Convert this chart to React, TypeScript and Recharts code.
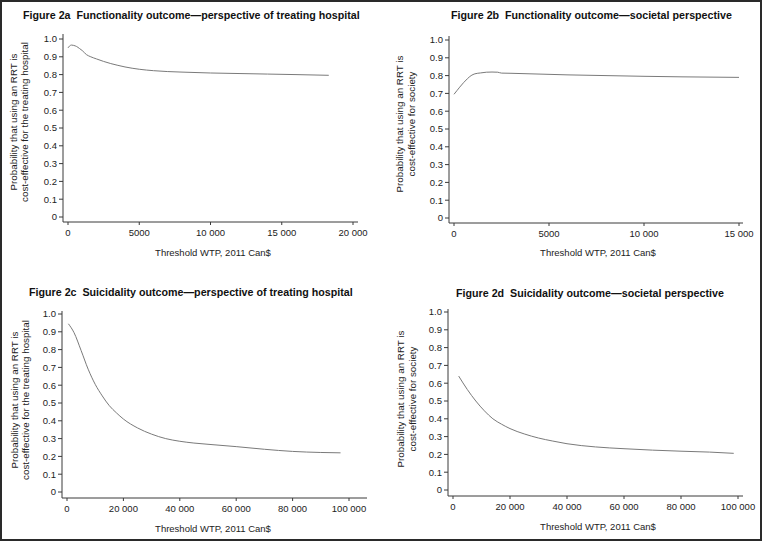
import { LineChart, Line, XAxis, YAxis, Label } from 'recharts'

// Figure 2a: functionality outcome, treating hospital
const wtpA = [0, 100, 250, 400, 600, 800, 1000, 1300, 1600, 2000, 2500, 3000, 3500, 4000, 5000, 6000, 7000, 8000, 10000, 12000, 14000, 16000, 18300]
const probA = [0.95, 0.96, 0.966, 0.964, 0.958, 0.947, 0.935, 0.912, 0.9, 0.888, 0.874, 0.862, 0.852, 0.843, 0.83, 0.822, 0.817, 0.814, 0.809, 0.806, 0.803, 0.8, 0.796]

// Figure 2b: functionality outcome, societal
const wtpB = [0, 150, 300, 500, 700, 900, 1100, 1400, 1700, 2000, 2300, 2500, 3000, 4000, 5000, 6000, 8000, 10000, 12000, 15000]
const probB = [0.695, 0.715, 0.735, 0.76, 0.782, 0.8, 0.81, 0.815, 0.819, 0.82, 0.819, 0.814, 0.813, 0.81, 0.807, 0.804, 0.8, 0.796, 0.793, 0.79]

// Figure 2c: suicidality outcome, treating hospital
const wtpC = [500, 2500, 5000, 7500, 10000, 12500, 15000, 17500, 20000, 25000, 30000, 35000, 40000, 45000, 50000, 60000, 70000, 80000, 90000, 97000]
const probC = [0.945, 0.895, 0.795, 0.69, 0.605, 0.54, 0.485, 0.445, 0.41, 0.36, 0.325, 0.3, 0.285, 0.275, 0.268, 0.255, 0.24, 0.228, 0.222, 0.22]

// Figure 2d: suicidality outcome, societal
const wtpD = [2000, 5000, 8000, 11000, 14000, 17000, 20000, 25000, 30000, 35000, 40000, 50000, 60000, 70000, 80000, 90000, 98500]
const probD = [0.64, 0.565, 0.5, 0.445, 0.4, 0.37, 0.345, 0.315, 0.292, 0.275, 0.26, 0.242, 0.232, 0.224, 0.218, 0.213, 0.206]

const yTicks = [0, 0.1, 0.2, 0.3, 0.4, 0.5, 0.6, 0.7, 0.8, 0.9, 1.0]
const xTicksA = [0, 5000, 10000, 15000, 20000]
const xTicksB = [0, 5000, 10000, 15000]
const xTicksCD = [0, 20000, 40000, 60000, 80000, 100000]

const xLabel = 'Threshold WTP, 2011 Can$'
const yLabelHospital = ['Probability that using an RRT is', 'cost-effective for the treating hospital']
const yLabelSociety = ['Probability that using an RRT is', 'cost-effective for society']

const FONT = '"Liberation Sans", Arial, Helvetica, sans-serif'
const AXIS = '#3a3a3a'
const TEXT = '#222'

const toRows = (xs: number[], ys: number[]) => xs.map((x, i) => ({ x, y: ys[i] }))

const fmtX = (v: number) => (v >= 10000 ? String(v).replace(/\B(?=(\d{3})+(?!\d))/g, ' ') : String(v))
const fmtY = (v: number) => (v === 0 ? '0' : v.toFixed(1))

interface PanelProps {
  box: { left: number; top: number; width: number; height: number }
  plot: { x0: number; x1: number; y0: number; y1: number }
  xPad: { left: number; right: number }
  yPad: { top: number; bottom: number }
  xDomain: [number, number]
  xTicks: number[]
  data: { x: number; y: number }[]
  title: string
  titleX: number
  titleY: number
  yLines: string[]
  yLineX: [number, number]
  yLabelCY: number
  xLabelCX: number
  xLabelCY: number
}

function Panel(p: PanelProps) {
  const { box, plot } = p
  const xAxisH = 30
  const margin = {
    top: plot.y0 - box.top,
    right: box.left + box.width - plot.x1,
    bottom: box.top + box.height - plot.y1 - xAxisH,
    left: 0
  }

  const yLabel = () => (
    <g>
      {p.yLines.map((line, i) => {
        const x = p.yLineX[i] - box.left
        const y = p.yLabelCY - box.top
        return (
          <text
            key={i}
            x={x}
            y={y}
            transform={`rotate(-90, ${x}, ${y})`}
            textAnchor="middle"
            dominantBaseline="central"
            fontFamily={FONT}
            fontSize={9.8}
            fill={TEXT}
          >
            {line}
          </text>
        )
      })}
    </g>
  )

  const xLabelEl = () => (
    <text
      x={p.xLabelCX - box.left}
      y={p.xLabelCY - box.top}
      textAnchor="middle"
      dominantBaseline="central"
      fontFamily={FONT}
      fontSize={9.5}
      fill={TEXT}
    >
      {xLabel}
    </text>
  )

  return (
    <>
      <div
        style={{
          position: 'absolute',
          left: p.titleX,
          top: p.titleY - 7,
          height: 14,
          lineHeight: '14px',
          fontFamily: FONT,
          fontWeight: 'bold',
          fontSize: 10.7,
          color: '#111',
          whiteSpace: 'pre'
        }}
      >
        {p.title}
      </div>
      <div style={{ position: 'absolute', left: box.left, top: box.top }}>
        <LineChart width={box.width} height={box.height} data={p.data} margin={margin}>
          <XAxis
            dataKey="x"
            type="number"
            domain={p.xDomain}
            ticks={p.xTicks}
            tickFormatter={fmtX}
            padding={p.xPad}
            height={xAxisH}
            tickSize={3}
            tickMargin={4}
            axisLine={{ stroke: AXIS, strokeWidth: 1 }}
            tickLine={{ stroke: AXIS }}
            tick={{ fill: TEXT, fontSize: 9.5, fontFamily: FONT }}
            interval={0}
          >
            <Label content={xLabelEl} />
          </XAxis>
          <YAxis
            type="number"
            domain={[0, 1]}
            ticks={yTicks}
            tickFormatter={fmtY}
            padding={p.yPad}
            width={plot.x0 - box.left}
            tickSize={4}
            tickMargin={2}
            axisLine={{ stroke: AXIS, strokeWidth: 1 }}
            tickLine={{ stroke: AXIS }}
            tick={{ fill: TEXT, fontSize: 9.5, fontFamily: FONT }}
            interval={0}
          >
            <Label content={yLabel} />
          </YAxis>
          <Line
            type="monotone"
            dataKey="y"
            stroke="#7a7a7a"
            strokeWidth={1}
            dot={false}
            activeDot={false}
            isAnimationActive={false}
          />
        </LineChart>
      </div>
    </>
  )
}

export default function App() {
  return (
    <div style={{ position: 'absolute', left: 0, top: 0, width: 762, height: 541, background: '#fff' }}>
      <Panel
        box={{ left: 0, top: 0, width: 381, height: 270 }}
        plot={{ x0: 63, x1: 358, y0: 34, y1: 222 }}
        xPad={{ left: 5, right: 5 }}
        yPad={{ top: 5, bottom: 5 }}
        xDomain={[0, 20000]}
        xTicks={xTicksA}
        data={toRows(wtpA, probA)}
        title="Figure 2a  Functionality outcome—perspective of treating hospital"
        titleX={23}
        titleY={15}
        yLines={yLabelHospital}
        yLineX={[13, 24]}
        yLabelCY={122}
        xLabelCX={213}
        xLabelCY={252}
      />
      <Panel
        box={{ left: 381, top: 0, width: 381, height: 270 }}
        plot={{ x0: 449, x1: 743, y0: 36, y1: 223 }}
        xPad={{ left: 5, right: 4 }}
        yPad={{ top: 4, bottom: 5 }}
        xDomain={[0, 15000]}
        xTicks={xTicksB}
        data={toRows(wtpB, probB)}
        title="Figure 2b  Functionality outcome—societal perspective"
        titleX={451}
        titleY={15}
        yLines={yLabelSociety}
        yLineX={[399, 411]}
        yLabelCY={124}
        xLabelCX={598}
        xLabelCY={252}
      />
      <Panel
        box={{ left: 0, top: 270, width: 381, height: 271 }}
        plot={{ x0: 62, x1: 367, y0: 311, y1: 498 }}
        xPad={{ left: 5, right: 18 }}
        yPad={{ top: 3, bottom: 6 }}
        xDomain={[0, 100000]}
        xTicks={xTicksCD}
        data={toRows(wtpC, probC)}
        title="Figure 2c  Suicidality outcome—perspective of treating hospital"
        titleX={29}
        titleY={292}
        yLines={yLabelHospital}
        yLineX={[14, 25]}
        yLabelCY={400}
        xLabelCX={213}
        xLabelCY={528}
      />
      <Panel
        box={{ left: 381, top: 270, width: 381, height: 271 }}
        plot={{ x0: 448, x1: 743, y0: 309, y1: 496 }}
        xPad={{ left: 5, right: 5 }}
        yPad={{ top: 3, bottom: 6 }}
        xDomain={[0, 100000]}
        xTicks={xTicksCD}
        data={toRows(wtpD, probD)}
        title="Figure 2d  Suicidality outcome—societal perspective"
        titleX={456}
        titleY={293}
        yLines={yLabelSociety}
        yLineX={[400, 412]}
        yLabelCY={399}
        xLabelCX={598}
        xLabelCY={526}
      />
      <div
        style={{
          position: 'absolute',
          left: 0,
          top: 0,
          width: 762,
          height: 541,
          border: '2px solid #2a2a2a',
          boxSizing: 'border-box',
          pointerEvents: 'none'
        }}
      />
    </div>
  )
}
